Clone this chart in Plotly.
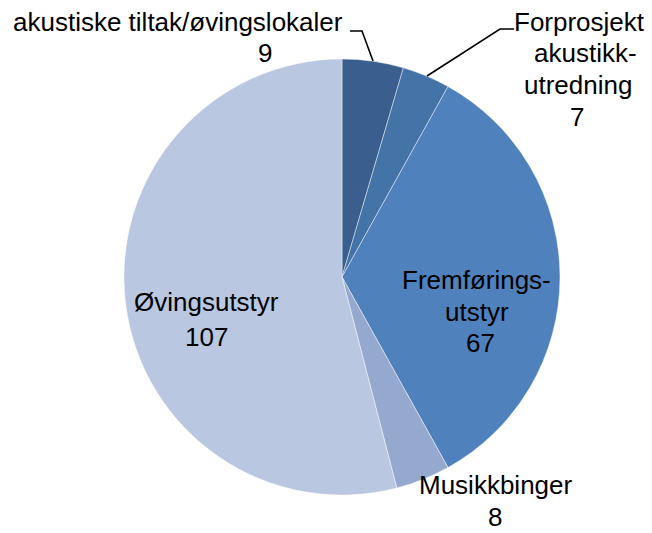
import plotly.graph_objects as go

# ---- data ----
categories = ["akustiske tiltak/øvingslokaler", "Forprosjekt akustikk-utredning",
              "Fremføringsutstyr", "Musikkbinger", "Øvingsutstyr"]
values = [9, 7, 67, 8, 107]
colors = ["#3A5F8E", "#4473A8", "#4F81BD", "#95A9CF", "#BAC7E0"]

# display label lines per category (as wrapped in the reference)
label_lines = [
    ["akustiske tiltak/øvingslokaler", "9"],
    ["Forprosjekt", "akustikk-", "utredning", "7"],
    ["Fremførings-", "utstyr", "67"],
    ["Musikkbinger", "8"],
    ["Øvingsutstyr", "107"],
]

W, H = 652, 533


def px(x, y):
    return x / W, 1 - y / H


# label line centre positions (pixels)
label_pos = [
    [(178, 22), (265, 53)],
    [(579, 22), (585, 53), (578, 85), (577, 117)],
    [(476, 280), (477, 312), (480, 343)],
    [(496, 485), (495, 517)],
    [(206, 302), (206, 337)],
]

fig = go.Figure(go.Pie(
    labels=categories,
    values=values,
    sort=False,
    direction="clockwise",
    rotation=0,
    marker=dict(colors=colors, line=dict(color="rgba(255,255,255,0.55)", width=0.8)),
    textinfo="none",
    hoverinfo="label+value",
    showlegend=False,
    domain=dict(x=[124 / W, 560 / W], y=[1 - 495 / H, 1 - 59 / H]),
))

annotations = []
for lines, poss in zip(label_lines, label_pos):
    for t, (x, y) in zip(lines, poss):
        ax, ay = px(x, y)
        annotations.append(dict(
            x=ax, y=ay, xref="paper", yref="paper", text=t, showarrow=False,
            xanchor="center", yanchor="middle",
            font=dict(family="Liberation Sans, Arial, sans-serif", size=26, color="#000000"),
        ))

# leader lines (pixels)
leaders = [
    [(350, 31), (362, 31), (373, 61)],
    [(514, 29), (500, 29), (427, 76)],
]
shapes = []
for pts in leaders:
    path = "M " + " L ".join(f"{px(x, y)[0]},{px(x, y)[1]}" for x, y in pts)
    shapes.append(dict(type="path", xref="paper", yref="paper", path=path,
                       line=dict(color="#000000", width=1.6)))

fig.update_layout(
    width=W, height=H,
    margin=dict(l=0, r=0, t=0, b=0),
    paper_bgcolor="white", plot_bgcolor="white",
    annotations=annotations,
    shapes=shapes,
)

fig.write_html("out.html", config={"displayModeBar": False},
               post_script="document.body.style.margin='0';")
